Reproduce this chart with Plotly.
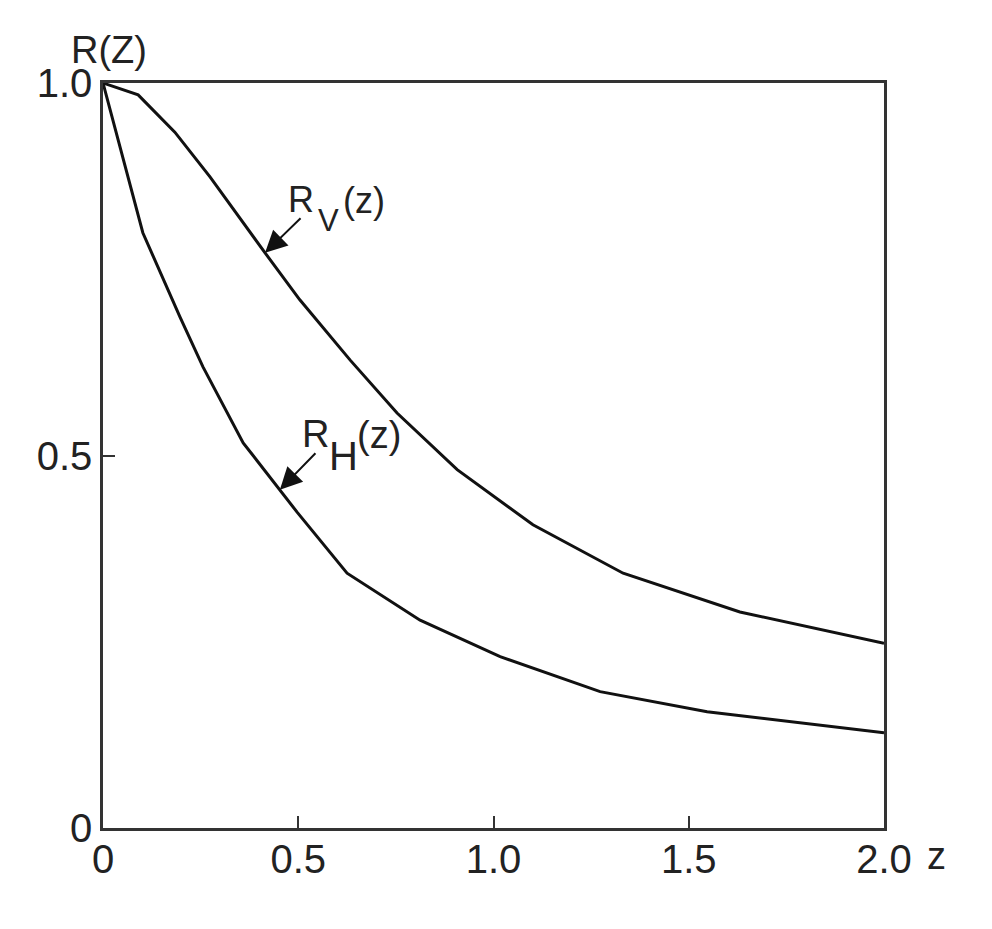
import plotly.graph_objects as go

# Data
z_v = [0.0, 0.090, 0.184, 0.274, 0.415, 0.504, 0.633, 0.753, 0.907, 1.101, 1.332, 1.631, 2.0]
r_v = [1.0, 0.984, 0.934, 0.874, 0.772, 0.709, 0.628, 0.557, 0.481, 0.407, 0.342, 0.290, 0.248]

z_h = [0.0, 0.102, 0.197, 0.256, 0.359, 0.453, 0.497, 0.625, 0.812, 1.017, 1.273, 1.547, 2.0]
r_h = [1.0, 0.799, 0.686, 0.619, 0.517, 0.454, 0.424, 0.342, 0.279, 0.230, 0.183, 0.156, 0.128]

x_tickvals = [0, 0.5, 1.0, 1.5, 2.0]
x_ticktext = ["0", "0.5", "1.0", "1.5", "2.0"]
y_tickvals = [0, 0.5, 1.0]
y_ticktext = ["0", "0.5", "1.0"]

FONT = "Liberation Sans, Arial, sans-serif"
INK = "#222222"

fig = go.Figure()
fig.add_trace(go.Scatter(x=z_v, y=r_v, mode="lines",
                         line=dict(color="#111111", width=3), showlegend=False))
fig.add_trace(go.Scatter(x=z_h, y=r_h, mode="lines",
                         line=dict(color="#111111", width=3), showlegend=False))

axis_common = dict(showline=True, mirror=True, linecolor="#333333", linewidth=2.5,
                   showgrid=False, zeroline=False, ticks="inside", ticklen=12,
                   tickwidth=2, tickcolor="#333333",
                   tickfont=dict(family=FONT, size=40, color=INK))

fig.update_xaxes(range=[0, 2], tickvals=x_tickvals, ticktext=x_ticktext,
                 ticklabelstandoff=-6, **axis_common)
fig.update_yaxes(range=[0, 1], tickvals=y_tickvals, ticktext=y_ticktext, **axis_common)

# arrows
fig.add_annotation(x=z_v[4], y=r_v[4], ax=37, ay=-36, text="", showarrow=True,
                   arrowhead=2, arrowsize=2.2, arrowwidth=2, arrowcolor="#111111")
fig.add_annotation(x=z_h[5], y=r_h[5], ax=37, ay=-38, text="", showarrow=True,
                   arrowhead=2, arrowsize=2.2, arrowwidth=2, arrowcolor="#111111")

# curve labels, built from pieces so the subscript keeps near full size
def piece(x, y, txt, size):
    fig.add_annotation(x=x, y=y, xanchor="center", yanchor="middle", showarrow=False,
                       text=txt, font=dict(family=FONT, size=size, color=INK))

piece(0.507, 0.844, "R", 36)
piece(0.577, 0.815, "V", 31)
piece(0.668, 0.842, "(z)", 36)

piece(0.545, 0.529, "R", 38)
piece(0.616, 0.500, "H", 40)
piece(0.706, 0.527, "(z)", 38)

fig.add_annotation(xref="paper", yref="paper", x=0.0077, y=1.044, xanchor="center",
                   yanchor="middle", showarrow=False, text="R(Z)",
                   font=dict(family=FONT, size=38, color=INK))
fig.add_annotation(xref="paper", yref="paper", x=1.067, y=-0.038, xanchor="center",
                   yanchor="middle", showarrow=False, text="z",
                   font=dict(family=FONT, size=38, color=INK))

fig.update_layout(width=992, height=929, margin=dict(l=95, r=116, t=75, b=109),
                  paper_bgcolor="white", plot_bgcolor="white",
                  font=dict(family=FONT, color=INK))

fig.write_html("out.html")
